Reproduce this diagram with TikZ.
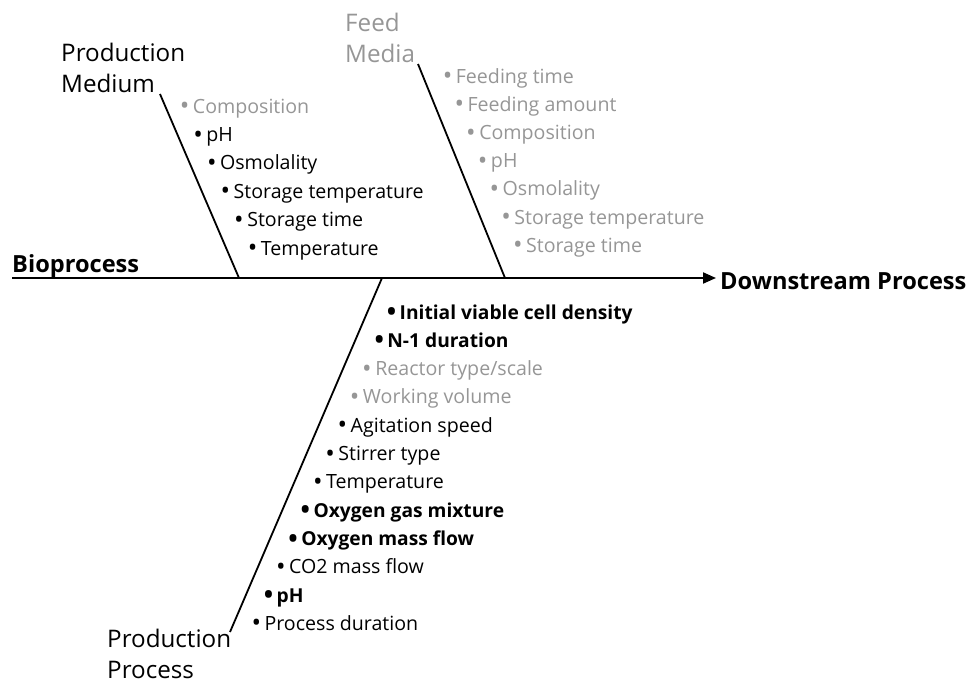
\documentclass[tikz,border=0pt]{standalone}
\usepackage{fontspec}
\usepackage{graphicx}
\setmainfont{Open Sans}
\usetikzlibrary{arrows.meta}
\definecolor{fgray}{RGB}{150,150,150}
\newcommand\fbul{\raisebox{-1.6pt}{\scalebox{1.3}{\textbullet}}\hspace{3.5pt}}
\begin{document}
\begin{tikzpicture}[x=1pt,y=-1pt,
  item/.style={anchor=base west,inner sep=0pt,font=\fontsize{19.6}{22}\selectfont},
  greyitem/.style={item,text=fgray},
  bolditem/.style={item,font=\fontsize{19.2}{22}\selectfont\bfseries},
  cat/.style={anchor=north west,inner sep=0pt,align=left,font=\fontsize{24.2}{30.5}\selectfont},
  bone/.style={line width=1.8pt},
  spine/.style={line width=2pt,-{Triangle[length=13pt,width=11pt]}},
  endlabel/.style={anchor=base west,inner sep=0pt,font=\fontsize{23.6}{26}\selectfont\bfseries},
]
\useasboundingbox (0,0) rectangle (969,685);

% spine
\coordinate (spineL) at (12,278);
\coordinate (spineR) at (716,278);
\draw[spine] (spineL) -- (spineR);
\node[endlabel] (bio) at (12,272) {Bioprocess};
\node[endlabel] (down) at (720,289) {Downstream Process};

% Production Medium branch
\coordinate (pmA) at (160,94);
\coordinate (pmB) at (239,278);
\draw[bone] (pmA) -- (pmB);
\node[cat] (pm) at (61,43) {Production\\Medium};
\node[greyitem] (pm0) at (179.6,113.0) {\fbul Composition};
\node[item]     (pm1) at (193.2,141.4) {\fbul pH};
\node[item]     (pm2) at (206.8,169.8) {\fbul Osmolality};
\node[item]     (pm3) at (220.4,198.2) {\fbul Storage temperature};
\node[item]     (pm4) at (234.0,226.6) {\fbul Storage time};
\node[item]     (pm5) at (247.6,255.0) {\fbul Temperature};

% Feed Media branch
\coordinate (fmA) at (418,64);
\coordinate (fmB) at (505,278);
\draw[bone] (fmA) -- (fmB);
\node[cat,text=fgray] (fm) at (345,13) {Feed\\Media};
\node[greyitem] (fm0) at (442.6,83.0)  {\fbul Feeding time};
\node[greyitem] (fm1) at (454.3,111.2) {\fbul Feeding amount};
\node[greyitem] (fm2) at (466.0,139.4) {\fbul Composition};
\node[greyitem] (fm3) at (477.7,167.6) {\fbul pH};
\node[greyitem] (fm4) at (489.4,195.8) {\fbul Osmolality};
\node[greyitem] (fm5) at (501.1,224.0) {\fbul Storage temperature};
\node[greyitem] (fm6) at (512.8,252.2) {\fbul Storage time};

% Production Process branch
\coordinate (ppA) at (382,278);
\coordinate (ppB) at (230,632);
\draw[bone] (ppA) -- (ppB);
\node[cat] (pp) at (107,629) {Production\\Process};
\node[bolditem] (pp0)  at (386.6,319.0) {\fbul Initial viable cell density};
\node[bolditem] (pp1)  at (374.3,347.3) {\fbul N-1 duration};
\node[greyitem] (pp2)  at (362.0,375.6) {\fbul Reactor type/scale};
\node[greyitem] (pp3)  at (349.7,403.9) {\fbul Working volume};
\node[item]     (pp4)  at (337.4,432.2) {\fbul Agitation speed};
\node[item]     (pp5)  at (325.1,460.5) {\fbul Stirrer type};
\node[item]     (pp6)  at (312.8,488.8) {\fbul Temperature};
\node[bolditem] (pp7)  at (300.5,517.1) {\fbul Oxygen gas mixture};
\node[bolditem] (pp8)  at (288.2,545.4) {\fbul Oxygen mass flow};
\node[item]     (pp9)  at (275.9,573.7) {\fbul CO2 mass flow};
\node[bolditem] (pp10) at (263.6,602.0) {\fbul pH};
\node[item]     (pp11) at (251.3,630.3) {\fbul Process duration};
\end{tikzpicture}
\end{document}
